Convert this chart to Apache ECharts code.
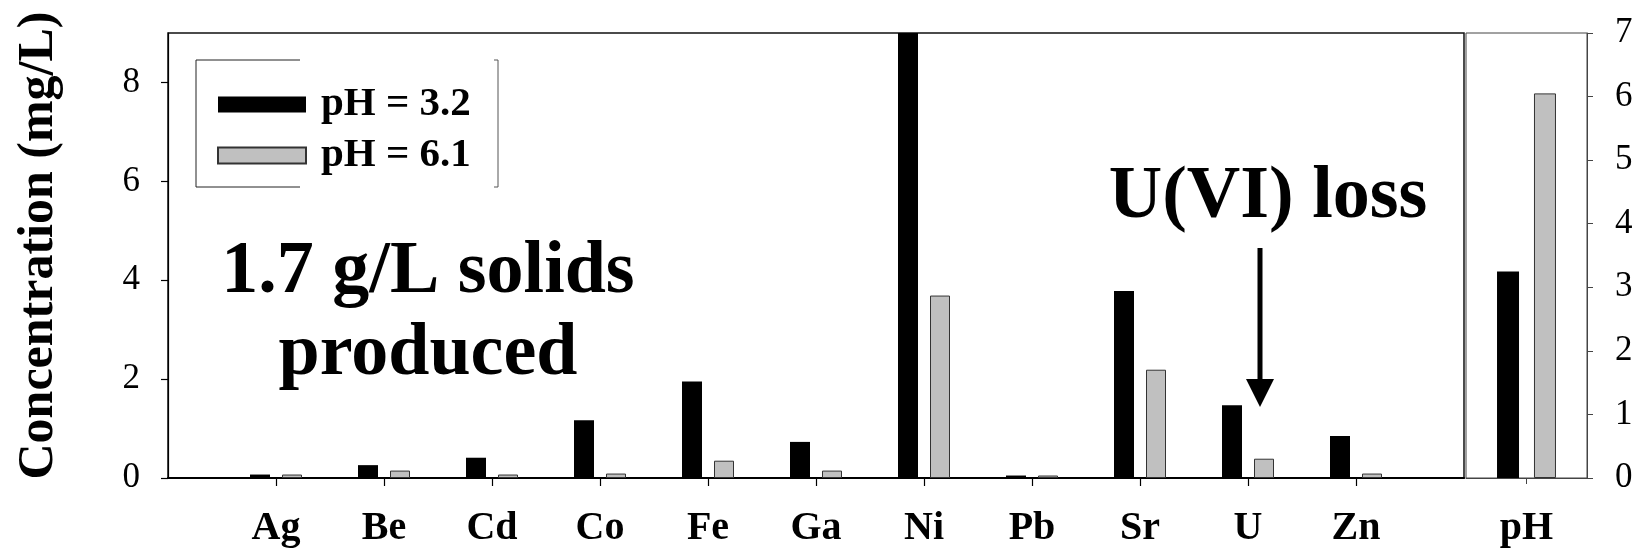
<!DOCTYPE html>
<html>
<head>
<meta charset="utf-8">
<script src="https://cdn.jsdelivr.net/npm/echarts@6/dist/echarts.min.js"></script>
<style>
html,body{margin:0;padding:0;background:#fff;}
#chart{width:1647px;height:552px;}
</style>
</head>
<body>
<div id="chart"></div>
<script>
// ---- data ----
const categories = ['Ag', 'Be', 'Cd', 'Co', 'Fe', 'Ga', 'Ni', 'Pb', 'Sr', 'U', 'Zn'];
const concPH32 = [0.07, 0.26, 0.41, 1.17, 1.95, 0.73, 9.0, 0.05, 3.78, 1.47, 0.85];
const concPH61 = [0.07, 0.15, 0.07, 0.09, 0.35, 0.15, 3.69, 0.05, 2.19, 0.39, 0.09];
const phCategories = ['pH'];
const phPH32 = [3.25];
const phPH61 = [6.05];
const leftTicks = [0, 2, 4, 6, 8];
const rightTicks = [0, 1, 2, 3, 4, 5, 6, 7];
const seriesNames = ['pH = 3.2', 'pH = 6.1'];

// pad categories so the axis runs one slot beyond the first and last element
const xCats = [''].concat(categories, ['']);
const padded = arr => [null].concat(arr, [null]);

const SERIF = 'Liberation Serif';
const blackStyle = { color: '#000000' };
const grayStyle = { color: '#c0c0c0', borderColor: '#333333', borderWidth: 1 };

const chart = echarts.init(document.getElementById('chart'), null, { renderer: 'canvas' });
chart.setOption({
  backgroundColor: '#ffffff',
  animation: false,
  textStyle: { fontFamily: SERIF, color: '#000' },
  legend: {
    data: seriesNames,
    orient: 'vertical',
    left: 212,
    top: 79,
    itemWidth: 88,
    itemHeight: 16,
    itemGap: 10,
    icon: 'rect',
    selectedMode: false,
    textStyle: { fontFamily: SERIF, fontWeight: 'bold', fontSize: 41, lineHeight: 40, color: '#000', padding: [0, 0, 0, 10] }
  },
  grid: [
    { left: 168, right: 183, top: 33, bottom: 74, show: true, borderColor: '#111', borderWidth: 1.5, backgroundColor: 'transparent' },
    { left: 1466, right: 60, top: 33, bottom: 74, show: true, borderColor: '#444', borderWidth: 1, backgroundColor: 'transparent' }
  ],
  xAxis: [
    {
      type: 'category', gridIndex: 0, data: xCats, boundaryGap: false,
      axisLine: { lineStyle: { color: '#000', width: 2.2 } },
      axisTick: { show: true, length: 8, lineStyle: { color: '#000', width: 1.2 }, interval: (i, v) => v !== '' },
      axisLabel: { interval: 0, margin: 31, fontFamily: SERIF, fontWeight: 'bold', fontSize: 40, color: '#000' },
      splitLine: { show: false }
    },
    {
      type: 'category', gridIndex: 1, data: phCategories, boundaryGap: true,
      axisLine: { lineStyle: { color: '#444', width: 1 } },
      axisTick: { show: true, alignWithLabel: true, length: 6, lineStyle: { color: '#444', width: 1 } },
      axisLabel: { margin: 31, fontFamily: SERIF, fontWeight: 'bold', fontSize: 40, color: '#000' },
      splitLine: { show: false }
    }
  ],
  yAxis: [
    {
      type: 'value', gridIndex: 0, min: 0, max: 9, interval: 1,
      name: 'Concentration (mg/L)', nameLocation: 'middle', nameGap: 104, nameRotate: 90,
      nameTextStyle: { fontFamily: SERIF, fontWeight: 'bold', fontSize: 50, color: '#000', padding: [0, 0, 0, 20] },
      axisLine: { show: true, lineStyle: { color: '#000', width: 1.2 } },
      axisTick: { show: true, length: 7, lineStyle: { color: '#000', width: 1.2 }, customValues: leftTicks },
      axisLabel: { margin: 28, fontFamily: SERIF, fontSize: 35, color: '#000', customValues: leftTicks },
      splitLine: { show: false }
    },
    {
      type: 'value', gridIndex: 1, position: 'right', min: 0, max: 7, interval: 1,
      axisLine: { show: true, lineStyle: { color: '#444', width: 1 } },
      axisTick: { show: true, length: 6, lineStyle: { color: '#444', width: 1 }, customValues: rightTicks },
      axisLabel: { margin: 28, fontFamily: SERIF, fontSize: 35, color: '#000', customValues: rightTicks },
      splitLine: { show: false }
    }
  ],
  series: [
    { name: seriesNames[0], type: 'bar', xAxisIndex: 0, yAxisIndex: 0, data: padded(concPH32), barWidth: 20, barGap: '60%', itemStyle: blackStyle, clip: true },
    { name: seriesNames[1], type: 'bar', xAxisIndex: 0, yAxisIndex: 0, data: padded(concPH61), barWidth: 20, barGap: '60%', itemStyle: grayStyle, clip: true },
    { name: seriesNames[0], type: 'bar', xAxisIndex: 1, yAxisIndex: 1, data: phPH32, barWidth: 22, barGap: '68%', itemStyle: blackStyle },
    { name: seriesNames[1], type: 'bar', xAxisIndex: 1, yAxisIndex: 1, data: phPH61, barWidth: 22, barGap: '68%', itemStyle: grayStyle }
  ],
  graphic: [
    // partial legend frame as in the original
    { type: 'polyline', shape: { points: [[300, 60], [196, 60], [196, 187], [300, 187]] }, style: { stroke: '#222', lineWidth: 1, fill: null }, z: 10 },
    { type: 'polyline', shape: { points: [[494, 60], [498, 60], [498, 187], [494, 187]] }, style: { stroke: '#555', lineWidth: 1, fill: null }, z: 10 },
    // annotations
    { type: 'text', x: 428, y: 232, style: { text: '1.7 g/L solids\nproduced', fontFamily: SERIF, fontWeight: 'bold', fontSize: 74, lineHeight: 82, fill: '#000', align: 'center', verticalAlign: 'top' }, z: 10 },
    { type: 'text', x: 1268, y: 198, style: { text: 'U(VI) loss', fontFamily: SERIF, fontWeight: 'bold', fontSize: 74, fill: '#000', align: 'center', verticalAlign: 'middle' }, z: 10 },
    { type: 'line', shape: { x1: 1260, y1: 248, x2: 1260, y2: 384 }, style: { stroke: '#000', lineWidth: 5 }, z: 10 },
    { type: 'polygon', shape: { points: [[1246, 379], [1274, 379], [1260, 407]] }, style: { fill: '#000' }, z: 10 }
  ]
});
</script>
</body>
</html>
